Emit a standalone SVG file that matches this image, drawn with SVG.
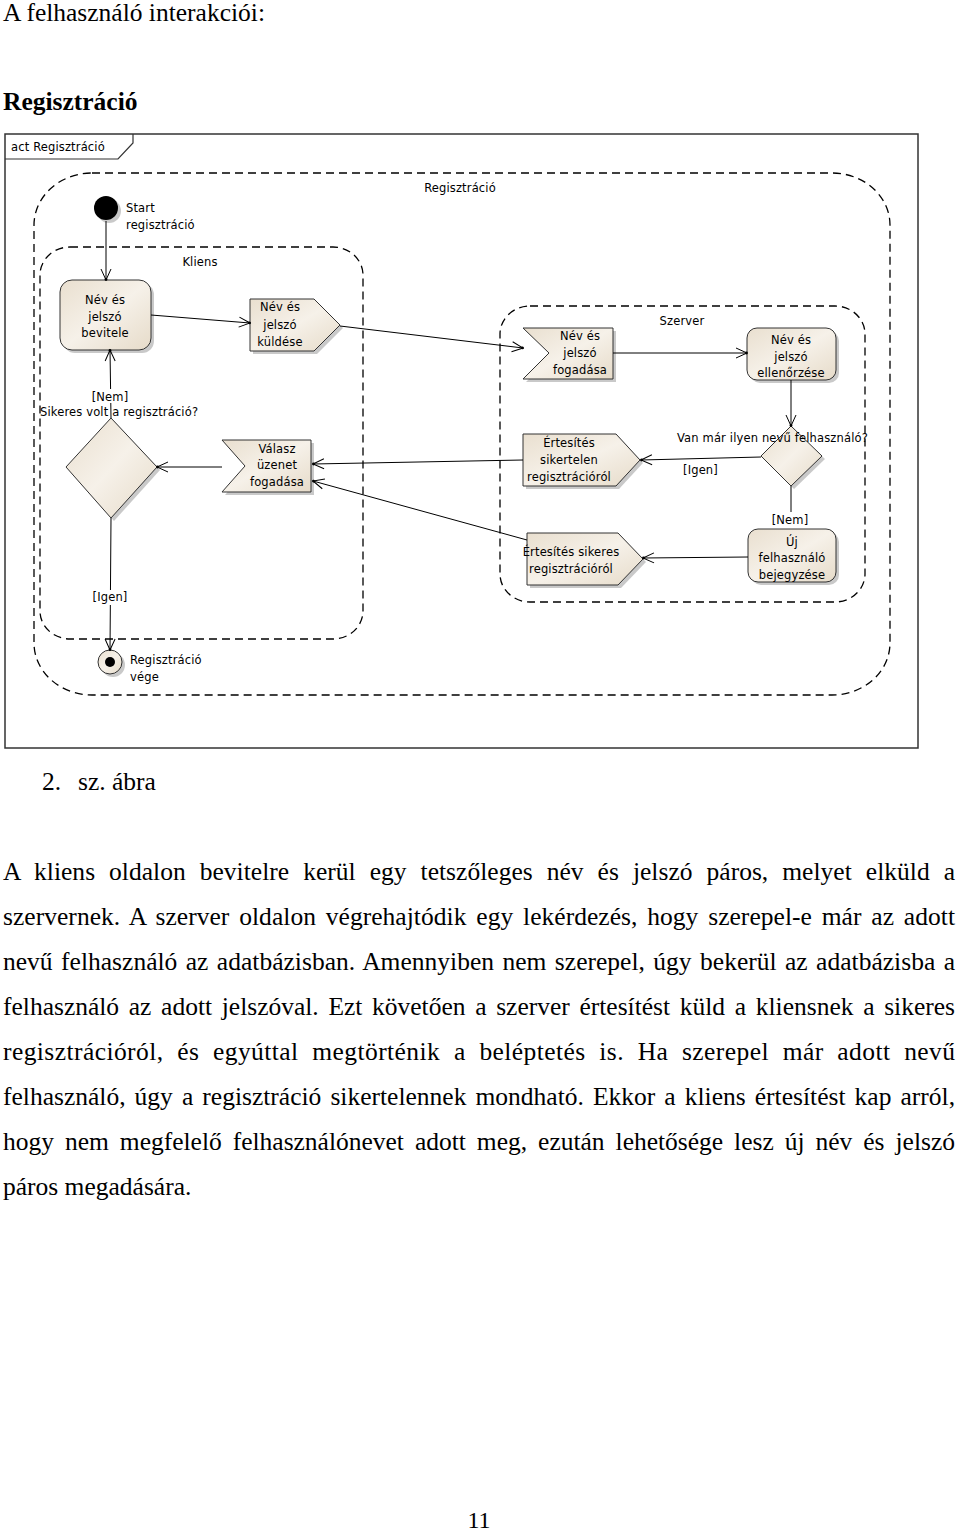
<svg xmlns="http://www.w3.org/2000/svg" width="960" height="1532" viewBox="0 0 960 1532">
<style>
.t{font-family:"DejaVu Sans",Verdana,sans-serif;font-size:11.5px;letter-spacing:0.15px;fill:#000}
.c{text-anchor:middle}
.p{font-family:"Liberation Serif","Times New Roman",serif;font-size:25.5px;fill:#000}
.b{font-weight:bold}
.node{fill:url(#g);stroke:#333;stroke-width:1}
.sh{fill:#9c9c9c;opacity:.55}
.edge{stroke:#000;stroke-width:1;fill:none}
.arr{marker-end:url(#ah)}
.reg{fill:none;stroke:#000;stroke-width:1.3;stroke-dasharray:8 5}
.lb{fill:#fff}
</style>
<defs>
<linearGradient id="g" x1="0" y1="0" x2="1" y2="1">
<stop offset="0" stop-color="#e9dfcf"/>
<stop offset="0.5" stop-color="#f6f1e9"/>
<stop offset="1" stop-color="#e6dbc9"/>
</linearGradient>
<marker id="ah" markerUnits="userSpaceOnUse" markerWidth="14" markerHeight="14" refX="12" refY="6" orient="auto">
<path d="M1,1 L12,6 L1,11" fill="none" stroke="#000" stroke-width="1"/>
<circle cx="11.5" cy="6" r="1.4" fill="#000"/>
</marker>
</defs>
<rect width="960" height="1532" fill="#fff"/>

<!-- page text -->
<text class="p" x="3" y="21">A felhasználó interakciói:</text>
<text class="p b" x="3" y="110">Regisztráció</text>

<!-- frame -->
<g id="frame">
<rect x="5" y="134" width="913" height="614" fill="#fff" stroke="#333" stroke-width="1.5"/>
<polyline points="5,159 118,159 133,143 133,134" fill="none" stroke="#333" stroke-width="1.2"/>
<text class="t" x="11" y="151">act Regisztráció</text>
</g>

<!-- regions -->
<g id="region-regisztracio">
<rect class="reg" x="34" y="173" width="856" height="522" rx="58" ry="52"/>
<text class="t c" x="460" y="192">Regisztráció</text>
</g>
<g id="region-kliens">
<rect class="reg" x="40" y="247" width="323" height="392" rx="30" ry="28"/>
<text class="t c" x="200" y="266">Kliens</text>
</g>
<g id="region-szerver">
<rect class="reg" x="500" y="306" width="365" height="296" rx="30" ry="28"/>
<text class="t c" x="682" y="325">Szerver</text>
</g>

<!-- nodes -->
<g id="start">
<circle class="sh" cx="109" cy="211" r="12"/>
<circle cx="106" cy="208" r="12" fill="#000"/>
<text class="t" x="126" y="212">Start</text>
<text class="t" x="126" y="229">regisztráció</text>
</g>

<g id="bevitele">
<rect class="sh" x="63" y="283" width="91" height="70" rx="12"/>
<rect class="node" x="60" y="280" width="91" height="70" rx="12"/>
<text class="t c" x="105" y="304">Név és</text>
<text class="t c" x="105" y="321">jelszó</text>
<text class="t c" x="105" y="337">bevitele</text>
</g>

<g id="kuldese">
<polygon class="sh" points="253,302 317,302 343,328 317,354 253,354"/>
<polygon class="node" points="250,299 314,299 340,325 314,351 250,351"/>
<text class="t c" x="280" y="311">Név és</text>
<text class="t c" x="280" y="329">jelszó</text>
<text class="t c" x="280" y="346">küldése</text>
</g>

<g id="fogadasa">
<polygon class="sh" points="526,331 616,331 616,382 526,382 552,356"/>
<polygon class="node" points="523,328 613,328 613,379 523,379 549,353"/>
<text class="t c" x="580" y="340">Név és</text>
<text class="t c" x="580" y="357">jelszó</text>
<text class="t c" x="580" y="374">fogadása</text>
</g>

<g id="ellenorzese">
<rect class="sh" x="750" y="331" width="89" height="52" rx="10"/>
<rect class="node" x="747" y="328" width="89" height="52" rx="10"/>
<text class="t c" x="791" y="344">Név és</text>
<text class="t c" x="791" y="361">jelszó</text>
<text class="t c" x="791" y="377">ellenőrzése</text>
</g>

<g id="dontes-szerver">
<polygon class="sh" points="794,429 825,459 794,489 764,459"/>
<polygon class="node" points="791,426 822,456 791,486 761,456"/>
</g>

<g id="sikertelen">
<polygon class="sh" points="526,437 619,437 643,463 619,489 526,489"/>
<polygon class="node" points="523,434 616,434 640,460 616,486 523,486"/>
<text class="t c" x="569" y="447">Értesítés</text>
<text class="t c" x="569" y="464">sikertelen</text>
<text class="t c" x="569" y="481">regisztrációról</text>
</g>

<g id="uj-felhasznalo">
<rect class="sh" x="751" y="532" width="88" height="53" rx="10"/>
<rect class="node" x="748" y="529" width="88" height="53" rx="10"/>
<text class="t c" x="792" y="546">Új</text>
<text class="t c" x="792" y="562">felhasználó</text>
<text class="t c" x="792" y="579">bejegyzése</text>
</g>

<g id="sikeres">
<polygon class="sh" points="530,536 621,536 646,562 621,588 530,588"/>
<polygon class="node" points="527,533 618,533 643,559 618,585 527,585"/>
<text class="t c" x="571" y="556">Értesítés sikeres</text>
<text class="t c" x="571" y="573">regisztrációról</text>
</g>

<g id="valasz">
<polygon class="sh" points="225,443 314,443 314,495 225,495 248,469"/>
<polygon class="node" points="222,440 311,440 311,492 222,492 245,466"/>
<text class="t c" x="277" y="453">Válasz</text>
<text class="t c" x="277" y="469">üzenet</text>
<text class="t c" x="277" y="486">fogadása</text>
</g>

<g id="dontes-kliens">
<polygon class="sh" points="114,421 160,470 114,521 69,470"/>
<polygon class="node" points="111,418 157,467 111,518 66,467"/>
</g>

<g id="vege">
<circle class="sh" cx="113" cy="665" r="12"/>
<circle class="node" cx="110" cy="662" r="12"/>
<circle cx="110" cy="662" r="5" fill="#000"/>
<text class="t" x="130" y="664">Regisztráció</text>
<text class="t" x="130" y="681">vége</text>
</g>

<!-- connectors -->
<g id="connectors">
<line class="edge arr" x1="106" y1="221" x2="106" y2="280"/>
<line class="edge arr" x1="151" y1="315" x2="250" y2="323"/>
<line class="edge arr" x1="340" y1="326" x2="523" y2="348"/>
<line class="edge arr" x1="613" y1="353" x2="747" y2="353"/>
<line class="edge arr" x1="791" y1="380" x2="791" y2="426"/>
<line class="edge arr" x1="761" y1="457" x2="641" y2="460"/>
<line class="edge" x1="791" y1="486" x2="791" y2="512"/>
<line class="edge arr" x1="748" y1="557" x2="643" y2="558"/>
<line class="edge arr" x1="523" y1="460" x2="313" y2="464"/>
<line class="edge arr" x1="527" y1="540" x2="313" y2="481"/>
<line class="edge arr" x1="222" y1="467" x2="157" y2="467"/>
<line class="edge arr" x1="111" y1="418" x2="110" y2="350"/>
<line class="edge arr" x1="111" y1="518" x2="110" y2="650"/>
<rect class="lb" x="93" y="389" width="36" height="14"/>
<text class="t c" x="110" y="401">[Nem]</text>
<text class="t" x="40" y="416">Sikeres volt a regisztráció?</text>
<rect class="lb" x="92" y="590" width="36" height="15"/>
<text class="t c" x="110" y="601">[Igen]</text>
<text class="t" x="683" y="474">[Igen]</text>
<text class="t c" x="790" y="524">[Nem]</text>
<text class="t" x="677" y="442">Van már ilyen nevű felhasználó?</text>
</g>

<!-- caption and paragraph -->
<text class="p" x="42" y="790">2.</text>
<text class="p" x="78" y="790">sz. ábra</text>

<text class="p" x="3" y="880" word-spacing="7.6" textLength="952" lengthAdjust="spacing">A kliens oldalon bevitelre kerül egy tetszőleges név és jelszó páros, melyet elküld a</text>
<text class="p" x="3" y="925" word-spacing="3.4" textLength="952" lengthAdjust="spacing">szervernek. A szerver oldalon végrehajtódik egy lekérdezés, hogy szerepel-e már az adott</text>
<text class="p" x="3" y="970" word-spacing="2.0" textLength="952" lengthAdjust="spacing">nevű felhasználó az adatbázisban. Amennyiben nem szerepel, úgy bekerül az adatbázisba a</text>
<text class="p" x="3" y="1015" word-spacing="3.3" textLength="952" lengthAdjust="spacing">felhasználó az adott jelszóval. Ezt követően a szerver értesítést küld a kliensnek a sikeres</text>
<text class="p" x="3" y="1060" word-spacing="6.9" textLength="952" lengthAdjust="spacing">regisztrációról, és egyúttal megtörténik a beléptetés is. Ha szerepel már adott nevű</text>
<text class="p" x="3" y="1105" word-spacing="2.7" textLength="952" lengthAdjust="spacing">felhasználó, úgy a regisztráció sikertelennek mondható. Ekkor a kliens értesítést kap arról,</text>
<text class="p" x="3" y="1150" word-spacing="4.6" textLength="952" lengthAdjust="spacing">hogy nem megfelelő felhasználónevet adott meg, ezután lehetősége lesz új név és jelszó</text>
<text class="p" x="3" y="1195">páros megadására.</text>

<text class="p" x="479" y="1528" text-anchor="middle" style="font-size:24px">11</text>
</svg>
